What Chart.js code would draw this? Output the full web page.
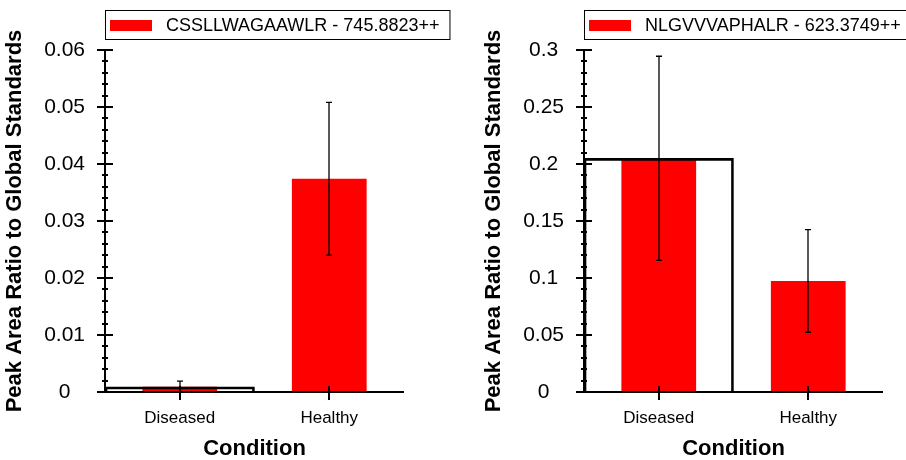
<!DOCTYPE html>
<html>
<head>
<meta charset="utf-8">
<script src="https://cdn.jsdelivr.net/npm/chart.js@4.4.1/dist/chart.umd.min.js"></script>
<style>
  html, body { margin: 0; padding: 0; background: #fff; overflow: hidden; }
  body { width: 906px; height: 460px; position: relative; }
  .panel { position: absolute; top: 0; width: 479px; height: 460px; }
</style>
</head>
<body>
<div class="panel" style="left:0"><canvas id="leftChart" width="479" height="460"></canvas></div>
<div class="panel" style="left:479px"><canvas id="rightChart" width="479" height="460"></canvas></div>
<script>
// categories and values
const categories = ['Diseased', 'Healthy'];
const highlightIndex = 0;

const leftLabel = 'CSSLLWAGAAWLR - 745.8823++';
const leftValues = [0.0009, 0.0374];
const leftErrors = [0.001, 0.0134];
const leftTicks = [0, 0.01, 0.02, 0.03, 0.04, 0.05, 0.06];

const rightLabel = 'NLGVVVAPHALR - 623.3749++';
const rightValues = [0.205, 0.0974];
const rightErrors = [0.0895, 0.045];
const rightTicks = [0, 0.05, 0.1, 0.15, 0.2, 0.25, 0.3];

const FONT = "'Liberation Sans', Arial, sans-serif";

// error bars, hand-drawn axes with crossing ticks, boxed legend
const panelPlugin = {
  id: 'panelPlugin',
  afterDatasetsDraw(chart) {
    const ctx = chart.ctx;
    const x = chart.scales.x, y = chart.scales.y;
    const area = chart.chartArea;
    const opts = chart.options.plugins.panelPlugin;
    const errs = opts.errors;
    const ticks = opts.majors;
    const vals = chart.data.datasets[0].data;
    const left = Math.round(area.left), bottom = Math.round(area.bottom);

    ctx.save();
    ctx.strokeStyle = '#000';
    ctx.lineWidth = 1.3;
    vals.forEach((v, i) => {
      const px = Math.round(x.getPixelForValue(i));
      const top = y.getPixelForValue(v + errs[i]);
      const bot = y.getPixelForValue(Math.max(v - errs[i], 0));
      ctx.beginPath();
      ctx.moveTo(px, top); ctx.lineTo(px, bot);
      ctx.moveTo(px - 3, top); ctx.lineTo(px + 3, top);
      ctx.moveTo(px - 3, bot); ctx.lineTo(px + 3, bot);
      ctx.stroke();
    });

    // axes
    ctx.lineWidth = 2;
    ctx.beginPath();
    ctx.moveTo(left, area.top - 1); ctx.lineTo(left, bottom);
    ctx.moveTo(left - 8, bottom); ctx.lineTo(area.right, bottom);
    ticks.forEach((t, k) => {
      const py = Math.round(y.getPixelForValue(t));
      ctx.moveTo(left - 8, py); ctx.lineTo(left + 8, py);
      if (k < ticks.length - 1) {
        const step = ticks[k + 1] - t;
        for (let m = 1; m < 5; m++) {
          const my = Math.round(y.getPixelForValue(t + step * m / 5));
          ctx.moveTo(left - 3, my); ctx.lineTo(left + 3, my);
        }
      }
    });
    categories.forEach((c, i) => {
      const px = Math.round(x.getPixelForValue(i));
      ctx.moveTo(px, bottom - 6); ctx.lineTo(px, bottom + 8);
    });
    ctx.stroke();

    // legend
    const label = chart.data.datasets[0].label;
    ctx.font = '18px ' + FONT;
    const tw = ctx.measureText(label).width;
    ctx.lineWidth = 1;
    ctx.strokeRect(left + 0.5, 10.5, 61 + tw + 10, 29);
    ctx.fillStyle = '#ff0000';
    ctx.fillRect(left + 5, 20, 42, 11);
    ctx.fillStyle = '#000';
    ctx.textBaseline = 'middle';
    ctx.fillText(label, left + 61, 26);
    ctx.restore();
  }
};

function makeChart(canvasId, label, values, errors, tickValues) {
  const yMax = tickValues[tickValues.length - 1];
  const outline = values.map((v, i) => i === highlightIndex ? v : null);
  return new Chart(document.getElementById(canvasId), {
    type: 'bar',
    data: {
      labels: categories,
      datasets: [{
        label: label,
        data: values,
        backgroundColor: '#ff0000',
        borderWidth: 0,
        barPercentage: 0.5,
        categoryPercentage: 1,
        grouped: false,
        order: 2
      }, {
        label: 'selected',
        data: outline,
        backgroundColor: 'rgba(0,0,0,0)',
        borderColor: '#000',
        borderWidth: 2,
        barPercentage: 1,
        categoryPercentage: 1,
        grouped: false,
        order: 1
      }]
    },
    options: {
      responsive: false,
      animation: false,
      layout: { padding: { top: 50, right: 75, left: 0, bottom: 0 } },
      plugins: {
        legend: { display: false },
        tooltip: { enabled: false },
        panelPlugin: { errors: errors, majors: tickValues }
      },
      scales: {
        x: {
          grid: { display: false, drawTicks: false },
          border: { display: false },
          ticks: { color: '#000', padding: 16, font: { family: FONT, size: 17 } },
          title: {
            display: true, text: 'Condition', color: '#000',
            font: { family: FONT, size: 22, weight: 'bold', lineHeight: 1 },
            padding: { top: 0, bottom: 0 }
          },
          afterFit(scale) { scale.height = 68; }
        },
        y: {
          min: 0,
          max: yMax,
          grid: { display: false, drawTicks: false },
          border: { display: false },
          ticks: {
            color: '#000',
            stepSize: tickValues[1],
            autoSkip: false,
            crossAlign: 'center',
            padding: 20,
            font: { family: FONT, size: 21 },
            callback: v => String(+v.toFixed(4))
          },
          title: {
            display: true, text: 'Peak Area Ratio to Global Standards', color: '#000',
            font: { family: FONT, size: 22, weight: 'bold', lineHeight: 1 },
            padding: { top: 4, bottom: 0 }
          },
          afterFit(scale) { scale.width = 105; }
        }
      }
    },
    plugins: [panelPlugin]
  });
}

makeChart('leftChart', leftLabel, leftValues, leftErrors, leftTicks);
makeChart('rightChart', rightLabel, rightValues, rightErrors, rightTicks);
</script>
</body>
</html>
